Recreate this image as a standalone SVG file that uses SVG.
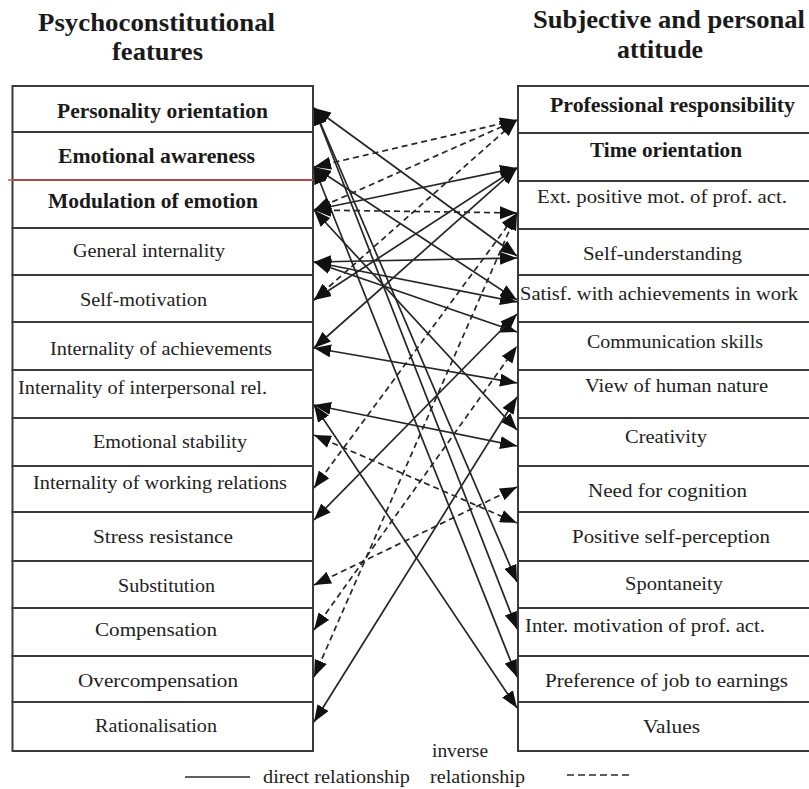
<svg xmlns="http://www.w3.org/2000/svg" width="809" height="789" viewBox="0 0 809 789">
<defs>
<marker id="ah" viewBox="0 0 17 13" refX="17" refY="6.5" markerWidth="17" markerHeight="13" markerUnits="userSpaceOnUse" orient="auto-start-reverse">
<path d="M0,0 L17,6.5 L0,13 z" fill="#111"/>
</marker>
<style>
.box{fill:#fff;stroke:#3a3a3a;stroke-width:2}
.t{font-family:"Liberation Serif","Times New Roman","DejaVu Serif",serif;font-size:19px;fill:#222}
.b{font-weight:bold;font-size:20px;fill:#1a1a1a}
.h{font-family:"Liberation Serif","Times New Roman","DejaVu Serif",serif;font-weight:bold;font-size:26px;fill:#1a1a1a}
.s{fill:none;stroke:#262626;stroke-width:1.7;marker-start:url(#ah);marker-end:url(#ah)}
.d{stroke-dasharray:6 4}
.lg{fill:none;stroke:#2a2a2a;stroke-width:1.5}
</style>
</defs>
<rect width="809" height="789" fill="#fff"/>

<g id="titles">
<text class="h" x="38" y="31" textLength="237" lengthAdjust="spacingAndGlyphs">Psychoconstitutional</text>
<text class="h" x="112" y="60" textLength="91" lengthAdjust="spacingAndGlyphs">features</text>
<text class="h" x="533" y="28" textLength="272" lengthAdjust="spacingAndGlyphs">Subjective and personal</text>
<text class="h" x="617" y="58" textLength="86" lengthAdjust="spacingAndGlyphs">attitude</text>
</g>

<g id="left-column">
<g id="L1"><rect class="box" x="12.5" y="86" width="300.5" height="46"/><text class="t b" x="57" y="118" textLength="211" lengthAdjust="spacingAndGlyphs">Personality orientation</text></g>
<g id="L2"><rect class="box" x="12.5" y="132" width="300.5" height="48"/><text class="t b" x="58" y="163" textLength="197" lengthAdjust="spacingAndGlyphs">Emotional awareness</text></g>
<g id="L3"><rect class="box" x="12.5" y="180" width="300.5" height="48"/><text class="t b" x="48" y="208" textLength="210" lengthAdjust="spacingAndGlyphs">Modulation of emotion</text></g>
<g id="L4"><rect class="box" x="12.5" y="228" width="300.5" height="47"/><text class="t" x="73" y="257" textLength="152" lengthAdjust="spacingAndGlyphs">General internality</text></g>
<g id="L5"><rect class="box" x="12.5" y="275" width="300.5" height="47"/><text class="t" x="80" y="306" textLength="127" lengthAdjust="spacingAndGlyphs">Self-motivation</text></g>
<g id="L6"><rect class="box" x="12.5" y="322" width="300.5" height="48"/><text class="t" x="50" y="355" textLength="222" lengthAdjust="spacingAndGlyphs">Internality of achievements</text></g>
<g id="L7"><rect class="box" x="12.5" y="370" width="300.5" height="48"/><text class="t" x="18" y="394" textLength="249" lengthAdjust="spacingAndGlyphs">Internality of interpersonal rel.</text></g>
<g id="L8"><rect class="box" x="12.5" y="418" width="300.5" height="48"/><text class="t" x="93" y="448" textLength="154" lengthAdjust="spacingAndGlyphs">Emotional stability</text></g>
<g id="L9"><rect class="box" x="12.5" y="466" width="300.5" height="46"/><text class="t" x="33" y="489" textLength="254" lengthAdjust="spacingAndGlyphs">Internality of working relations</text></g>
<g id="L10"><rect class="box" x="12.5" y="512" width="300.5" height="49"/><text class="t" x="93" y="543" textLength="140" lengthAdjust="spacingAndGlyphs">Stress resistance</text></g>
<g id="L11"><rect class="box" x="12.5" y="561" width="300.5" height="47"/><text class="t" x="118" y="592" textLength="97" lengthAdjust="spacingAndGlyphs">Substitution</text></g>
<g id="L12"><rect class="box" x="12.5" y="608" width="300.5" height="48"/><text class="t" x="95" y="636" textLength="122" lengthAdjust="spacingAndGlyphs">Compensation</text></g>
<g id="L13"><rect class="box" x="12.5" y="656" width="300.5" height="46"/><text class="t" x="78" y="687" textLength="160" lengthAdjust="spacingAndGlyphs">Overcompensation</text></g>
<g id="L14"><rect class="box" x="12.5" y="702" width="300.5" height="49"/><text class="t" x="95" y="732" textLength="122" lengthAdjust="spacingAndGlyphs">Rationalisation</text></g>
<line x1="8" y1="180" x2="313" y2="180" stroke="#d65050" stroke-width="1.4"/>
</g>

<g id="right-column">
<g id="R1"><rect class="box" x="518" y="86" width="294" height="47"/><text class="t b" x="550" y="112" textLength="245" lengthAdjust="spacingAndGlyphs">Professional responsibility</text></g>
<g id="R2"><rect class="box" x="518" y="133" width="294" height="48"/><text class="t b" x="590" y="157" textLength="152" lengthAdjust="spacingAndGlyphs">Time orientation</text></g>
<g id="R3"><rect class="box" x="518" y="181" width="294" height="48"/><text class="t" x="537" y="203" textLength="250" lengthAdjust="spacingAndGlyphs">Ext. positive mot. of prof. act.</text></g>
<g id="R4"><rect class="box" x="518" y="229" width="294" height="46"/><text class="t" x="583" y="260" textLength="159" lengthAdjust="spacingAndGlyphs">Self-understanding</text></g>
<g id="R5"><rect class="box" x="518" y="275" width="294" height="47"/><text class="t" x="520" y="300" textLength="278" lengthAdjust="spacingAndGlyphs">Satisf. with achievements in work</text></g>
<g id="R6"><rect class="box" x="518" y="322" width="294" height="48"/><text class="t" x="587" y="348" textLength="176" lengthAdjust="spacingAndGlyphs">Communication skills</text></g>
<g id="R7"><rect class="box" x="518" y="370" width="294" height="48"/><text class="t" x="585" y="392" textLength="183" lengthAdjust="spacingAndGlyphs">View of human nature</text></g>
<g id="R8"><rect class="box" x="518" y="418" width="294" height="48"/><text class="t" x="625" y="443" textLength="82" lengthAdjust="spacingAndGlyphs">Creativity</text></g>
<g id="R9"><rect class="box" x="518" y="466" width="294" height="46"/><text class="t" x="588" y="497" textLength="159" lengthAdjust="spacingAndGlyphs">Need for cognition</text></g>
<g id="R10"><rect class="box" x="518" y="512" width="294" height="49"/><text class="t" x="572" y="543" textLength="198" lengthAdjust="spacingAndGlyphs">Positive self-perception</text></g>
<g id="R11"><rect class="box" x="518" y="561" width="294" height="47"/><text class="t" x="625" y="590" textLength="98" lengthAdjust="spacingAndGlyphs">Spontaneity</text></g>
<g id="R12"><rect class="box" x="518" y="608" width="294" height="48"/><text class="t" x="525" y="632" textLength="240" lengthAdjust="spacingAndGlyphs">Inter. motivation of prof. act.</text></g>
<g id="R13"><rect class="box" x="518" y="656" width="294" height="46"/><text class="t" x="545" y="687" textLength="243" lengthAdjust="spacingAndGlyphs">Preference of job to earnings</text></g>
<g id="R14"><rect class="box" x="518" y="702" width="294" height="49"/><text class="t" x="643" y="733" textLength="57" lengthAdjust="spacingAndGlyphs">Values</text></g>
</g>

<g id="connectors">
<line class="s" x1="314" y1="108" x2="517" y2="256"/>
<line class="s" x1="314" y1="108" x2="517" y2="582"/>
<line class="s" x1="314" y1="108" x2="517" y2="629"/>
<line class="s" x1="314" y1="167" x2="517" y2="300"/>
<line class="s" x1="314" y1="167" x2="517" y2="677"/>
<line class="s" x1="314" y1="210" x2="517" y2="168"/>
<line class="s" x1="314" y1="210" x2="517" y2="430"/>
<line class="s" x1="314" y1="262" x2="517" y2="258"/>
<line class="s" x1="314" y1="262" x2="517" y2="302"/>
<line class="s" x1="314" y1="262" x2="517" y2="332"/>
<line class="s" x1="314" y1="300" x2="517" y2="168"/>
<line class="s" x1="314" y1="348" x2="517" y2="168"/>
<line class="s" x1="314" y1="348" x2="517" y2="383"/>
<line class="s" x1="314" y1="405" x2="517" y2="446"/>
<line class="s" x1="314" y1="405" x2="517" y2="708"/>
<line class="s" x1="314" y1="520" x2="517" y2="314"/>
<line class="s" x1="314" y1="722" x2="517" y2="397"/>
<line class="s d" x1="314" y1="167" x2="517" y2="120"/>
<line class="s d" x1="314" y1="210" x2="517" y2="120"/>
<line class="s d" x1="314" y1="300" x2="517" y2="120"/>
<line class="s d" x1="314" y1="210" x2="517" y2="213"/>
<line class="s d" x1="314" y1="488" x2="517" y2="213"/>
<line class="s d" x1="314" y1="677" x2="517" y2="213"/>
<line class="s d" x1="314" y1="435" x2="517" y2="523"/>
<line class="s d" x1="314" y1="585" x2="517" y2="487"/>
<line class="s d" x1="314" y1="630" x2="517" y2="346"/>
</g>

<g id="legend">
<line class="lg" x1="185" y1="777" x2="250" y2="777"/>
<text class="t" x="263" y="783" font-size="18" textLength="147" lengthAdjust="spacingAndGlyphs">direct relationship</text>
<text class="t" x="432" y="757" font-size="18" textLength="56" lengthAdjust="spacingAndGlyphs">inverse</text>
<text class="t" x="430" y="783" font-size="18" textLength="95" lengthAdjust="spacingAndGlyphs">relationship</text>
<line class="lg" x1="567" y1="775" x2="630" y2="775" stroke-dasharray="7 4"/>
</g>
</svg>
